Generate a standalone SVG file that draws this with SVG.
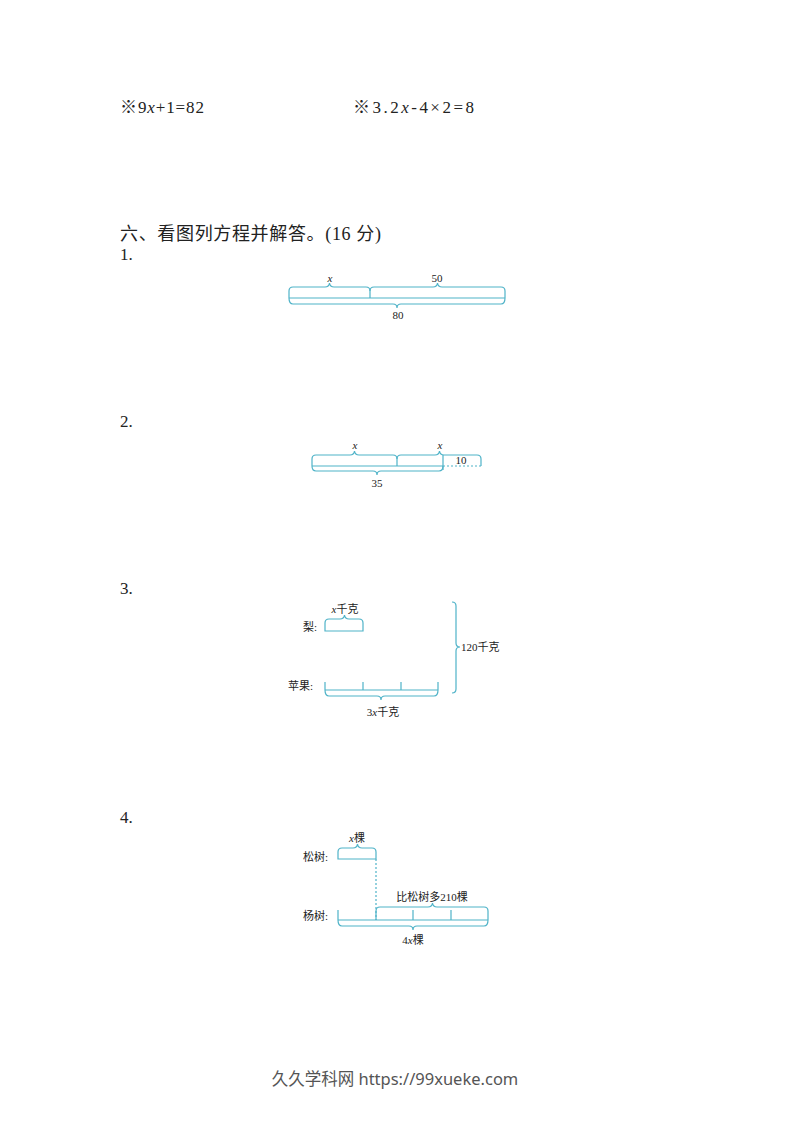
<svg xmlns="http://www.w3.org/2000/svg" width="793" height="1122" viewBox="0 0 793 1122">
<style>
.t{font-family:"Liberation Serif","Noto Sans CJK SC",serif;fill:#222;}
.main{font-size:17px;}
.head{font-size:18px;}
.lab{font-size:11px;}
.it{font-style:italic;}
.ln{fill:none;stroke:#4fb3c8;stroke-width:1.2;}
.dash{fill:none;stroke:#4fb3c8;stroke-width:1.2;stroke-dasharray:2,2;}
.foot{font-family:"Noto Sans","Noto Sans CJK SC",sans-serif;font-size:16.5px;fill:#555;}
</style>
<rect width="793" height="1122" fill="#fff"/>
<g id="equations">
<text class="t main" x="120" y="113" textLength="84" lengthAdjust="spacing">※9<tspan class="it">x</tspan>+1=82</text>
<text class="t main" x="353" y="113" textLength="121" lengthAdjust="spacing">※3.2<tspan class="it">x</tspan>-4×2=8</text>
</g>
<g id="heading">
<text class="t head" x="120" y="240" textLength="261" lengthAdjust="spacing">六、看图列方程并解答。(16 分)</text>
<text class="t main" x="120" y="260">1.</text>
<text class="t main" x="120" y="427">2.</text>
<text class="t main" x="120" y="594">3.</text>
<text class="t main" x="120" y="823">4.</text>
</g>
<g id="connectors">
<!-- diagram 1 -->
<path class="ln" d="M289,298 L289,291 Q289,287 293,287 L325,287 Q329,287 329.5,283 Q330,287 334,287 L366,287 Q370,287 370,291 L370,298"/>
<path class="ln" d="M370,291 Q370,287 374,287 L433,287 Q437,287 437.5,283 Q438,287 442,287 L501,287 Q505,287 505,291 L505,298"/>
<path class="ln" d="M289,298 L505,298"/>
<path class="ln" d="M289,298 Q289,304 293,304 L393,304 Q397,304 397,308 Q397,304 401,304 L501,304 Q505,304 505,298"/>
<!-- diagram 2 -->
<path class="ln" d="M312,466 L312,459 Q312,455 316,455 L350,455 Q354,455 354.5,451 Q355,455 359,455 L393,455 Q397,455 397,459 L397,466"/>
<path class="ln" d="M397,459 Q397,455 401,455 L435,455 Q439,455 439.5,451 Q440,455 444,455 L477,455 Q481,455 481,459 L481,466"/>
<path class="ln" d="M312,466 L443,466 M443,455 L443,470"/>
<path class="dash" d="M443,466 L481,466"/>
<path class="ln" d="M312,466 Q312,471 316,471 L373,471 Q377,471 377,475 Q377,471 381,471 L439,471 Q443,471 443,466"/>
<!-- diagram 3 -->
<path class="ln" d="M325,631 L325,623 Q325,619 329,619 L340,619 Q344,619 344.5,615 Q345,619 349,619 L359,619 Q363,619 363,623 L363,631 Z"/>
<path class="ln" d="M452,602 Q456,602 456,606 L456,643 Q456,647 460,647 Q456,647 456,651 L456,689 Q456,693 452,693"/>
<path class="ln" d="M325,690 L438,690 M325,682 L325,690 M363,682 L363,690 M401,682 L401,690 M438,682 L438,690"/>
<path class="ln" d="M325,690 Q325,696 329,696 L377,696 Q381,696 381,700 Q381,696 385,696 L434,696 Q438,696 438,690"/>
<!-- diagram 4 -->
<path class="ln" d="M338,859 L338,852 Q338,848 342,848 L353,848 Q357,848 357.5,844 Q358,848 362,848 L372,848 Q376,848 376,852 L376,859 Z"/>
<path class="dash" d="M376,859 L376,920"/>
<path class="ln" d="M338,920 L488,920 M338,910 L338,920 M413,910 L413,920 M451,910 L451,920"/>
<path class="ln" d="M376,920 L376,911 Q376,907 380,907 L428,907 Q432,907 432.5,903 Q433,907 437,907 L484,907 Q488,907 488,911 L488,920"/>
<path class="ln" d="M338,920 Q338,926 342,926 L409,926 Q413,926 413,930 Q413,926 417,926 L484,926 Q488,926 488,920"/>
</g>
<g id="diagram1-labels">
<text class="t lab it" x="330" y="282" text-anchor="middle">x</text>
<text class="t lab" x="437" y="282" text-anchor="middle">50</text>
<text class="t lab" x="398" y="319" text-anchor="middle">80</text>
</g>
<g id="diagram2-labels">
<text class="t lab it" x="355" y="449" text-anchor="middle">x</text>
<text class="t lab it" x="440" y="449" text-anchor="middle">x</text>
<text class="t lab" x="461" y="464" text-anchor="middle">10</text>
<text class="t lab" x="377" y="487" text-anchor="middle">35</text>
</g>
<g id="diagram3-labels">
<text class="t lab" x="345" y="613" text-anchor="middle"><tspan class="it">x</tspan>千克</text>
<text class="t lab" x="303" y="631">梨:</text>
<text class="t lab" x="288" y="690">苹果:</text>
<text class="t lab" x="461" y="651">120千克</text>
<text class="t lab" x="383" y="716" text-anchor="middle">3<tspan class="it">x</tspan>千克</text>
</g>
<g id="diagram4-labels">
<text class="t lab" x="357" y="842" text-anchor="middle"><tspan class="it">x</tspan>棵</text>
<text class="t lab" x="303" y="861">松树:</text>
<text class="t lab" x="303" y="920">杨树:</text>
<text class="t lab" x="432" y="901" text-anchor="middle">比松树多210棵</text>
<text class="t lab" x="413" y="944" text-anchor="middle">4<tspan class="it">x</tspan>棵</text>
</g>
<g id="footer">
<text class="foot" x="395" y="1085" text-anchor="middle">久久学科网 https://99xueke.com</text>
</g>
</svg>
